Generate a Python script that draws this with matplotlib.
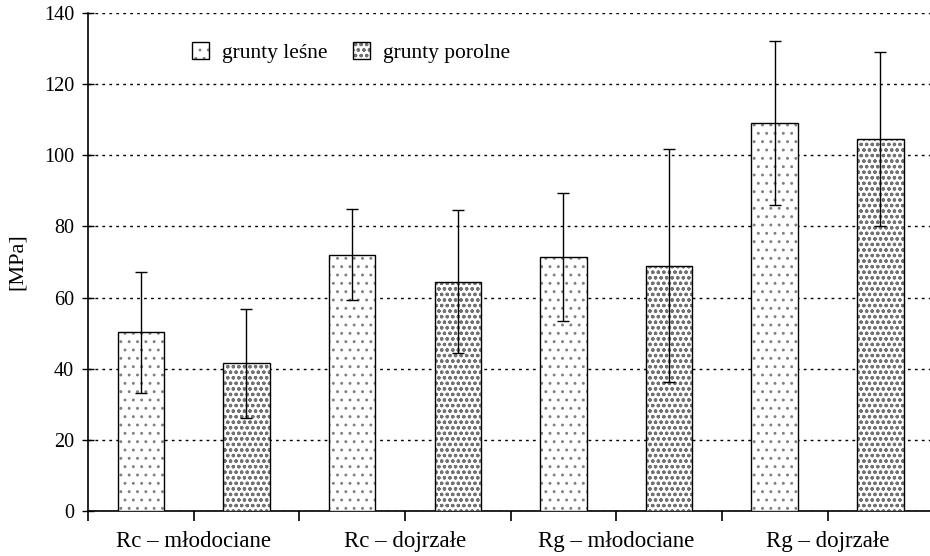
import numpy as np
import matplotlib.pyplot as plt
import matplotlib as mpl
from matplotlib.legend_handler import HandlerTuple

plt.rcParams['font.family'] = ['Liberation Serif', 'DejaVu Serif']
mpl.rcParams['hatch.linewidth'] = 0.9

# bars in order along the axis
groups = ['Rc – młodociane', 'Rc – dojrzałe', 'Rg – młodociane', 'Rg – dojrzałe']
series = ['grunty leśne', 'grunty porolne']
lesne = [50.3, 72.0, 71.3, 109.0]
lesne_err = [17.0, 12.8, 18.0, 23.0]
porolne = [41.5, 64.5, 69.0, 104.5]
porolne_err = [15.3, 20.0, 32.7, 24.5]

fig = plt.figure(figsize=(9.3, 5.56), dpi=100)
ax = fig.add_axes([88 / 930, 45 / 556, 1 - 88 / 930, (511 - 13) / 556])

n = len(groups)
x_l = np.arange(n) * 2 + 0.5
x_p = np.arange(n) * 2 + 1.5
w = 0.44
ekw = dict(ecolor='black', elinewidth=1.0, capsize=4, capthick=1.0, zorder=5)

# hatch layer (grey) then outline layer (black)
h1 = ax.bar(x_l, lesne, w, color='white', edgecolor='0.5', linewidth=0,
            hatch='..', zorder=3)
o1 = ax.bar(x_l, lesne, w, yerr=lesne_err, fill=False, edgecolor='black',
            linewidth=1.0, zorder=4, error_kw=ekw)
h2 = ax.bar(x_p, porolne, w, color='white', edgecolor='0.45', linewidth=0,
            hatch='ooo', zorder=3)
o2 = ax.bar(x_p, porolne, w, yerr=porolne_err, fill=False, edgecolor='black',
            linewidth=1.0, zorder=4, error_kw=ekw)

ax.set_xlim(0, 2 * n - 0.03)
ax.set_ylim(0, 140)
ax.set_yticks(np.arange(0, 141, 20))
ax.yaxis.grid(True, linestyle=(0, (2, 3)), color='black', linewidth=1.0, zorder=1)

# tick marks at every bar edge, group names as text under each pair
ax.set_xticks(np.arange(0, 2 * n))
ax.set_xticklabels([])
ax.tick_params(axis='x', which='major', length=7, width=1.2, direction='out')
ax.tick_params(axis='y', which='major', length=8, width=1.0, direction='inout',
               labelsize=14.5, pad=6)
for xc, name in zip(np.arange(n) * 2 + 1, groups):
    ax.text(xc, -0.04, name, transform=ax.get_xaxis_transform(),
            ha='center', va='top', fontsize=16.5)

for s in ['top', 'right']:
    ax.spines[s].set_visible(False)
ax.spines['left'].set_linewidth(1.2)
ax.spines['bottom'].set_linewidth(1.2)

ax.set_ylabel('[MPa]', fontsize=16, labelpad=12)

ax.legend([(h1[0], o1[0]), (h2[0], o2[0])], series,
          handler_map={tuple: HandlerTuple(ndivide=1)},
          loc='upper left', bbox_to_anchor=(0.1, 0.98), ncol=2, frameon=False,
          fontsize=15.5, handlelength=0.8, handleheight=0.8, handletextpad=0.6,
          columnspacing=1.2)

plt.savefig('out.png', dpi=100)
